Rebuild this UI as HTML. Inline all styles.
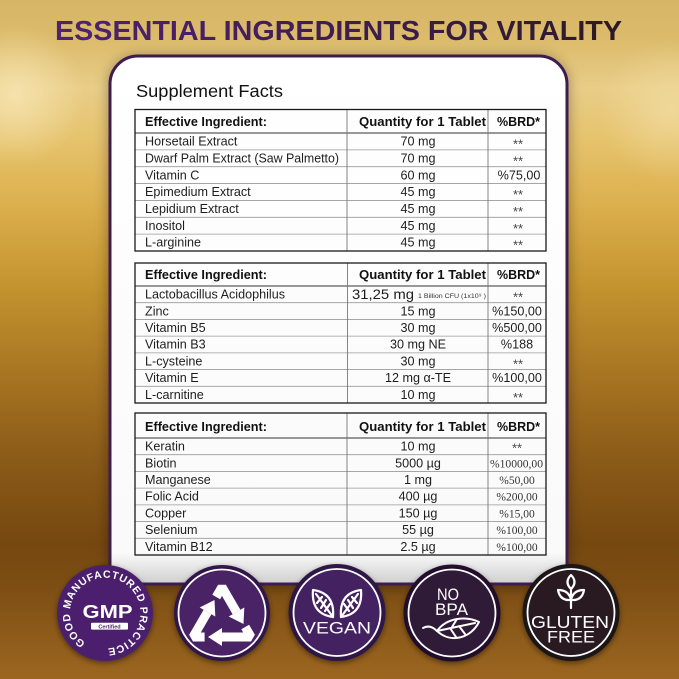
<!DOCTYPE html>
<html><head><meta charset="utf-8"><style>
html,body{margin:0;padding:0;width:679px;height:679px;overflow:hidden;}
svg{display:block;}
.ing{font-family:"Liberation Sans",sans-serif;font-size:12.6px;fill:#1e1e1e;}
.hd{font-family:"Liberation Sans",sans-serif;font-size:12.6px;font-weight:bold;fill:#111;}
.val{font-family:"Liberation Sans",sans-serif;font-size:12.6px;fill:#1e1e1e;text-anchor:middle;}
.st{font-family:"Liberation Sans",sans-serif;font-size:13px;fill:#444;text-anchor:middle;}
.pc{font-family:"Liberation Serif",serif;font-size:11.5px;fill:#333;text-anchor:middle;}
.bt{font-family:"Liberation Sans",sans-serif;fill:#fff;text-anchor:middle;}
</style></head><body>
<svg width="679" height="679" viewBox="0 0 679 679" xmlns="http://www.w3.org/2000/svg">
<defs>
<linearGradient id="bg" x1="0" y1="0" x2="0" y2="1">
<stop offset="0" stop-color="#d6b566"/>
<stop offset="0.06" stop-color="#dcbc6c"/>
<stop offset="0.13" stop-color="#e9cd88"/>
<stop offset="0.2" stop-color="#e6c46e"/>
<stop offset="0.3" stop-color="#dcb04e"/>
<stop offset="0.42" stop-color="#c4942f"/>
<stop offset="0.55" stop-color="#a87522"/>
<stop offset="0.68" stop-color="#8a5a18"/>
<stop offset="0.8" stop-color="#754810"/>
<stop offset="0.87" stop-color="#7e4f14"/>
<stop offset="1" stop-color="#9c6620"/>
</linearGradient>
<radialGradient id="glowL" cx="15" cy="95" r="70" gradientUnits="userSpaceOnUse">
<stop offset="0" stop-color="#f6e4b0" stop-opacity="0.9"/>
<stop offset="1" stop-color="#f6e4b0" stop-opacity="0"/>
</radialGradient>
<radialGradient id="glowR" cx="670" cy="110" r="70" gradientUnits="userSpaceOnUse">
<stop offset="0" stop-color="#f3dea6" stop-opacity="0.7"/>
<stop offset="1" stop-color="#f3dea6" stop-opacity="0"/>
</radialGradient>
<linearGradient id="tg" x1="0" y1="0" x2="1" y2="0">
<stop offset="0" stop-color="#4f2272"/>
<stop offset="0.55" stop-color="#3d1d4e"/>
<stop offset="1" stop-color="#2b1a26"/>
</linearGradient>
<linearGradient id="cardg" x1="0" y1="0" x2="0" y2="1">
<stop offset="0" stop-color="#ffffff"/>
<stop offset="0.94" stop-color="#fafafa"/>
<stop offset="1" stop-color="#cfcfcf"/>
</linearGradient>
<filter id="sh" x="-20%" y="-20%" width="140%" height="140%">
<feDropShadow dx="0" dy="2" stdDeviation="7" flood-color="#000" flood-opacity="0.35"/>
</filter>
<filter id="bsh" x="-30%" y="-30%" width="160%" height="160%">
<feDropShadow dx="0" dy="2" stdDeviation="3" flood-color="#000" flood-opacity="0.45"/>
</filter>
<path id="gmpRing" d="M87.25,643.74 A35.5,35.5 0 0 1 122.75,582.26 A35.5,35.5 0 0 1 105,648.5"/>
</defs>

<rect width="679" height="679" fill="url(#bg)"/>
<rect width="679" height="679" fill="url(#glowL)"/>
<rect width="679" height="679" fill="url(#glowR)"/>

<text x="55" y="40" font-family="Liberation Sans, sans-serif" font-weight="bold" font-size="28" fill="url(#tg)" textLength="567" lengthAdjust="spacingAndGlyphs">ESSENTIAL INGREDIENTS FOR VITALITY</text>

<!-- Card -->
<path d="M110,84 A28,28 0 0 1 138,56 L539,56 A28,28 0 0 1 567,84 L567,584 L110,584 Z" fill="url(#cardg)" stroke="#3d1b50" stroke-width="3" filter="url(#sh)"/>

<text x="136" y="97" font-family="Liberation Sans, sans-serif" font-size="17.5" fill="#111" textLength="147" lengthAdjust="spacingAndGlyphs">Supplement Facts</text>

<!-- Table 1 -->
<g fill="none">
<g stroke="#9a9a9a" stroke-width="0.8">
<line x1="135" y1="149.86" x2="546" y2="149.86"/>
<line x1="135" y1="166.71" x2="546" y2="166.71"/>
<line x1="135" y1="183.57" x2="546" y2="183.57"/>
<line x1="135" y1="200.43" x2="546" y2="200.43"/>
<line x1="135" y1="217.29" x2="546" y2="217.29"/>
<line x1="135" y1="234.14" x2="546" y2="234.14"/>
</g>
<line x1="135" y1="133" x2="546" y2="133" stroke="#333" stroke-width="1"/>
<line x1="347" y1="109.5" x2="347" y2="251" stroke="#777" stroke-width="0.9"/>
<line x1="488" y1="109.5" x2="488" y2="251" stroke="#777" stroke-width="0.9"/>
<rect x="135" y="109.5" width="411" height="141.5" stroke="#1a1a1a" stroke-width="1.3"/>
</g>
<text class="hd" x="145" y="126" textLength="122" lengthAdjust="spacingAndGlyphs">Effective Ingredient:</text>
<text class="hd" x="422.5" y="126" text-anchor="middle" textLength="127" lengthAdjust="spacingAndGlyphs">Quantity for 1 Tablet</text>
<text class="hd" x="518.5" y="126" text-anchor="middle" textLength="43" lengthAdjust="spacingAndGlyphs">%BRD*</text>

<text class="ing" x="145" y="145.6">Horsetail Extract</text>
<text class="ing" x="145" y="162.5" textLength="194" lengthAdjust="spacingAndGlyphs">Dwarf Palm Extract (Saw Palmetto)</text>
<text class="ing" x="145" y="179.3">Vitamin C</text>
<text class="ing" x="145" y="196.2">Epimedium Extract</text>
<text class="ing" x="145" y="213.0">Lepidium Extract</text>
<text class="ing" x="145" y="229.9">Inositol</text>
<text class="ing" x="145" y="246.7">L-arginine</text>

<text class="val" x="418" y="145.6">70 mg</text>
<text class="val" x="418" y="162.5">70 mg</text>
<text class="val" x="418" y="179.3">60 mg</text>
<text class="val" x="418" y="196.2">45 mg</text>
<text class="val" x="418" y="213.0">45 mg</text>
<text class="val" x="418" y="229.9">45 mg</text>
<text class="val" x="418" y="246.7">45 mg</text>

<text class="st" x="518" y="148.6">**</text>
<text class="st" x="518" y="165.5">**</text>
<text class="val" x="519" y="179.3">%75,00</text>
<text class="st" x="518" y="199.2">**</text>
<text class="st" x="518" y="216.0">**</text>
<text class="st" x="518" y="232.9">**</text>
<text class="st" x="518" y="249.7">**</text>

<!-- Table 2 -->
<g fill="none">
<g stroke="#9a9a9a" stroke-width="0.8">
<line x1="135" y1="302.71" x2="546" y2="302.71"/>
<line x1="135" y1="319.43" x2="546" y2="319.43"/>
<line x1="135" y1="336.14" x2="546" y2="336.14"/>
<line x1="135" y1="352.86" x2="546" y2="352.86"/>
<line x1="135" y1="369.57" x2="546" y2="369.57"/>
<line x1="135" y1="386.29" x2="546" y2="386.29"/>
</g>
<line x1="135" y1="286" x2="546" y2="286" stroke="#333" stroke-width="1"/>
<line x1="347.5" y1="263" x2="347.5" y2="403" stroke="#777" stroke-width="0.9"/>
<line x1="488" y1="263" x2="488" y2="403" stroke="#777" stroke-width="0.9"/>
<rect x="135" y="263" width="411" height="140" stroke="#1a1a1a" stroke-width="1.3"/>
</g>
<text class="hd" x="145" y="279" textLength="122" lengthAdjust="spacingAndGlyphs">Effective Ingredient:</text>
<text class="hd" x="422.5" y="279" text-anchor="middle" textLength="127" lengthAdjust="spacingAndGlyphs">Quantity for 1 Tablet</text>
<text class="hd" x="518.5" y="279" text-anchor="middle" textLength="43" lengthAdjust="spacingAndGlyphs">%BRD*</text>

<text class="ing" x="145" y="298.6">Lactobacillus Acidophilus</text>
<text class="ing" x="145" y="315.3">Zinc</text>
<text class="ing" x="145" y="332.0">Vitamin B5</text>
<text class="ing" x="145" y="348.7">Vitamin B3</text>
<text class="ing" x="145" y="365.5">L-cysteine</text>
<text class="ing" x="145" y="382.2">Vitamin E</text>
<text class="ing" x="145" y="398.9">L-carnitine</text>

<text x="352" y="298.8" font-family="Liberation Sans, sans-serif" font-size="13.6" fill="#1e1e1e" textLength="62" lengthAdjust="spacingAndGlyphs">31,25 mg</text>
<text x="418" y="297.8" font-family="Liberation Sans, sans-serif" font-size="6.3" fill="#333" textLength="68" lengthAdjust="spacingAndGlyphs">1 Billion CFU (1x10⁹ )</text>
<text class="val" x="418" y="315.3">15 mg</text>
<text class="val" x="418" y="332.0">30 mg</text>
<text class="val" x="418" y="348.7">30 mg NE</text>
<text class="val" x="418" y="365.5">30 mg</text>
<text class="val" x="418" y="382.2">12 mg α-TE</text>
<text class="val" x="418" y="398.9">10 mg</text>

<text class="st" x="518" y="301.6">**</text>
<text class="val" x="517" y="315.3">%150,00</text>
<text class="val" x="517" y="332.0">%500,00</text>
<text class="val" x="517" y="348.7">%188</text>
<text class="st" x="518" y="368.5">**</text>
<text class="val" x="517" y="382.2">%100,00</text>
<text class="st" x="518" y="401.9">**</text>

<!-- Table 3 -->
<g fill="none">
<g stroke="#9a9a9a" stroke-width="0.8">
<line x1="135" y1="454.71" x2="546" y2="454.71"/>
<line x1="135" y1="471.43" x2="546" y2="471.43"/>
<line x1="135" y1="488.14" x2="546" y2="488.14"/>
<line x1="135" y1="504.86" x2="546" y2="504.86"/>
<line x1="135" y1="521.57" x2="546" y2="521.57"/>
<line x1="135" y1="538.29" x2="546" y2="538.29"/>
</g>
<line x1="135" y1="438" x2="546" y2="438" stroke="#333" stroke-width="1"/>
<line x1="347" y1="413" x2="347" y2="555" stroke="#777" stroke-width="0.9"/>
<line x1="488" y1="413" x2="488" y2="555" stroke="#777" stroke-width="0.9"/>
<rect x="135" y="413" width="411" height="142" stroke="#1a1a1a" stroke-width="1.3"/>
</g>
<text class="hd" x="145" y="431" textLength="122" lengthAdjust="spacingAndGlyphs">Effective Ingredient:</text>
<text class="hd" x="422.5" y="431" text-anchor="middle" textLength="127" lengthAdjust="spacingAndGlyphs">Quantity for 1 Tablet</text>
<text class="hd" x="518.5" y="431" text-anchor="middle" textLength="43" lengthAdjust="spacingAndGlyphs">%BRD*</text>

<text class="ing" x="145" y="450.6">Keratin</text>
<text class="ing" x="145" y="467.3">Biotin</text>
<text class="ing" x="145" y="484.0">Manganese</text>
<text class="ing" x="145" y="500.7">Folic Acid</text>
<text class="ing" x="145" y="517.5">Copper</text>
<text class="ing" x="145" y="534.2">Selenium</text>
<text class="ing" x="145" y="550.9">Vitamin B12</text>

<text class="val" x="418" y="450.6">10 mg</text>
<text class="val" x="418" y="467.3">5000 µg</text>
<text class="val" x="418" y="484.0">1 mg</text>
<text class="val" x="418" y="500.7">400  µg</text>
<text class="val" x="418" y="517.5">150 µg</text>
<text class="val" x="418" y="534.2">55 µg</text>
<text class="val" x="418" y="550.9">2.5 µg</text>

<text class="st" x="517" y="452.6" font-size="11">**</text>
<text class="pc" x="516.5" y="467.3" textLength="53" lengthAdjust="spacingAndGlyphs">%10000,00</text>
<text class="pc" x="517" y="484.0">%50,00</text>
<text class="pc" x="517" y="500.7">%200,00</text>
<text class="pc" x="517" y="517.5">%15,00</text>
<text class="pc" x="517" y="534.2">%100,00</text>
<text class="pc" x="517" y="550.9">%100,00</text>

<!-- Badges -->
<!-- GMP -->
<g filter="url(#bsh)">
<circle cx="105" cy="613" r="48" fill="#48206a"/>
</g>
<circle cx="105" cy="613" r="46" fill="#4b1e6e"/>
<text font-family="Liberation Sans, sans-serif" font-weight="bold" font-size="10.5" fill="#fff"><textPath href="#gmpRing" startOffset="2" textLength="198" lengthAdjust="spacing">GOOD MANUFACTURED PRACTICE</textPath></text>
<text class="bt" x="107.5" y="618" font-size="18.5" font-weight="bold" textLength="50" lengthAdjust="spacingAndGlyphs">GMP</text>
<rect x="91" y="622.8" width="37" height="6.8" rx="1" fill="#fff"/>
<text x="109.5" y="628.3" text-anchor="middle" font-family="Liberation Sans, sans-serif" font-size="5.5" font-weight="bold" fill="#4b1e6e">Certified</text>

<!-- Recycle -->
<g filter="url(#bsh)">
<circle cx="222" cy="613" r="48" fill="#331548"/>
</g>
<circle cx="222" cy="613" r="43.5" fill="#4a2367" stroke="#fff" stroke-width="1.8"/>
<g transform="translate(222,614)" fill="#fff" stroke="#fff">
<polyline points="-5.8,-17 0,-27 14.5,-2" fill="none" stroke-width="9" stroke-linejoin="bevel"/>
<polygon points="22.3,-6.5 6.7,2.5 21.5,10" stroke="none"/>
<polyline points="23.2,13 29,23 0,23" fill="none" stroke-width="9" stroke-linejoin="bevel"/>
<polygon points="0,14 0,32 -14,23" stroke="none"/>
<polyline points="-17.4,23 -29,23 -14.5,-2" fill="none" stroke-width="9" stroke-linejoin="bevel"/>
<polygon points="-6.7,2.5 -22.3,-6.5 -7.5,-14" stroke="none"/>
</g>

<!-- Vegan -->
<g filter="url(#bsh)">
<circle cx="337" cy="612.5" r="48.5" fill="#2f1446"/>
</g>
<circle cx="337" cy="612.5" r="43.5" fill="#442161" stroke="#fff" stroke-width="1.8"/>
<g fill="none" stroke="#fff" stroke-width="2.2" stroke-linejoin="round" stroke-linecap="round">
<path d="M333,617 Q311,614 313,590 Q335,593 333,617 Z"/>
<path d="M333,617 L316,594 M321,608 L326,600 M317,603 L322,597 M325,611 L330,604"/>
<path d="M341,617 Q363,614 361,590 Q339,593 341,617 Z"/>
<path d="M341,617 L358,594 M353,608 L348,600 M357,603 L352,597 M349,611 L344,604"/>
</g>
<text class="bt" x="337" y="633.5" font-size="16.5" textLength="68" lengthAdjust="spacingAndGlyphs">VEGAN</text>

<!-- No BPA -->
<g filter="url(#bsh)">
<circle cx="452" cy="613" r="48.5" fill="#22102a"/>
</g>
<circle cx="452" cy="613" r="43.5" fill="#2f1a37" stroke="#fff" stroke-width="1.8"/>
<text class="bt" x="448" y="600" font-size="16.5" textLength="22" lengthAdjust="spacingAndGlyphs">NO</text>
<text class="bt" x="451.5" y="615" font-size="16.5" textLength="33" lengthAdjust="spacingAndGlyphs">BPA</text>
<g fill="none" stroke="#fff" stroke-width="2" stroke-linejoin="round" stroke-linecap="round">
<path d="M437,631 C447,617 467,616 479,622 C471,638 451,644 437,631 Z"/>
<path d="M437,631 L475,623 M450,628 L456,637 M459,626 L465,634 M452,627 L457,619"/>
<path d="M423,628 Q430,624 437,631"/>
</g>

<!-- Gluten free -->
<g filter="url(#bsh)">
<circle cx="571" cy="612.5" r="48.5" fill="#1e1218"/>
</g>
<circle cx="571" cy="612.5" r="43.5" fill="#291a22" stroke="#fff" stroke-width="1.8"/>
<g fill="none" stroke="#fff" stroke-width="2.2" stroke-linejoin="round" stroke-linecap="round">
<path d="M571,608 L571,589"/>
<path d="M571,589 Q564,582 571,575 Q578,582 571,589 Z"/>
<path d="M571,600 Q560,601 558,590 Q569,590 571,600 Z"/>
<path d="M571,600 Q582,601 584,590 Q573,590 571,600 Z"/>
</g>
<text class="bt" x="570" y="628" font-size="17.5" textLength="78" lengthAdjust="spacingAndGlyphs">GLUTEN</text>
<text class="bt" x="571" y="642.5" font-size="17" textLength="48" lengthAdjust="spacingAndGlyphs">FREE</text>
</svg>
</body></html>
